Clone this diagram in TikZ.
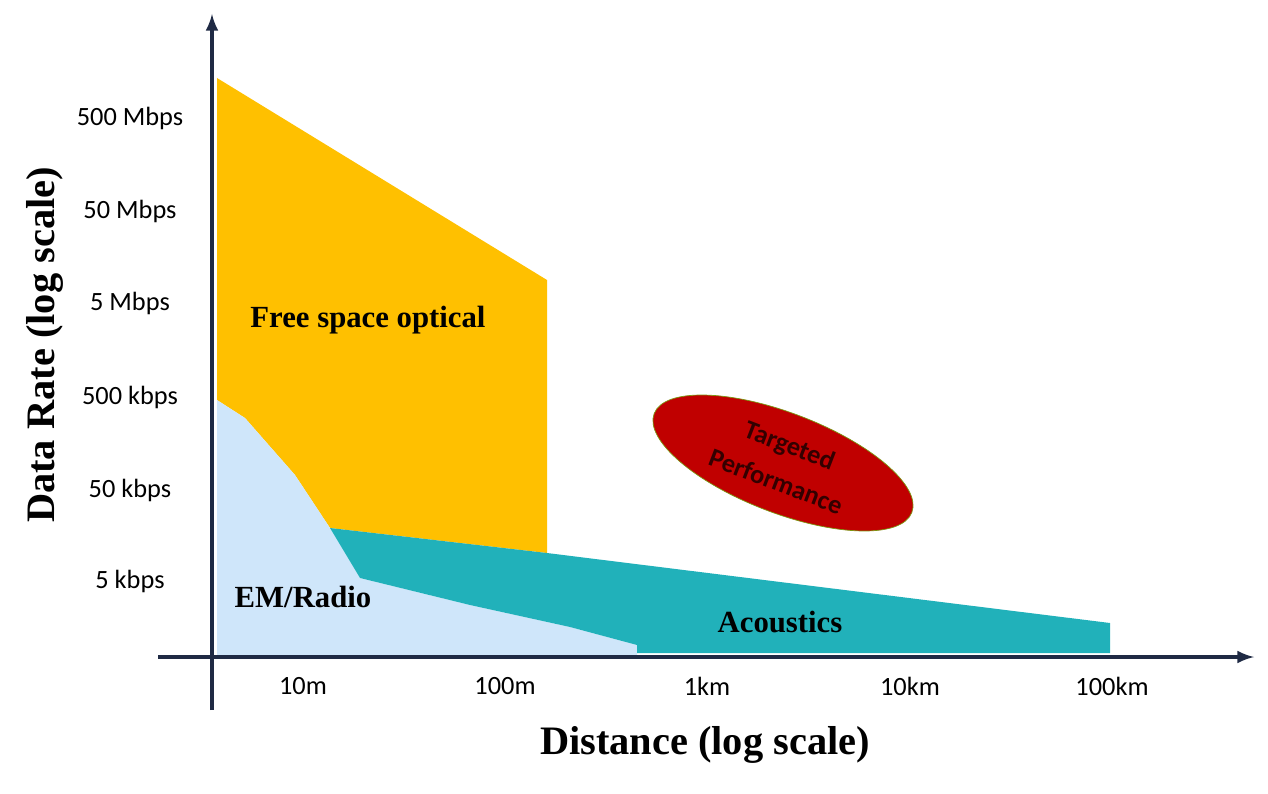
\documentclass[tikz,border=0pt]{standalone}
\usepackage{fontspec}
\setmainfont{Liberation Serif}
\newfontfamily\calfont{Carlito}
\begin{document}
\begin{tikzpicture}[x=0.02cm,y=-0.02cm,
 tick/.style={font=\calfont\fontsize{15}{17}\selectfont},
 lab/.style={font=\bfseries\fontsize{17.5}{20}\selectfont},
 ax/.style={line width=2.2pt,color=axc,-latex}]
\definecolor{axc}{HTML}{1F2A44}
\definecolor{orng}{HTML}{FFC000}
\definecolor{lblue}{HTML}{CFE6FA}
\definecolor{teal}{HTML}{21B1BA}
\definecolor{dred}{HTML}{C00000}
\useasboundingbox (0,0) rectangle (1268,794);
\fill[orng] (217,78)--(547,280)--(547,553)--(330,528)--(295,475)--(245,418)--(217,400)--cycle;
\fill[lblue] (217,400)--(245,418)--(295,475)--(330,528)--(360,578)--(470,605)--(570,627)--(637,645)--(637,655)--(217,655)--cycle;
\fill[teal] (330,528)--(547,553)--(1110,623)--(1110,653)--(637,653)--(637,645)--(570,627)--(470,605)--(360,578)--cycle;
\coordinate (y0) at (212,710); \coordinate (y1) at (212,14);
\coordinate (x0) at (158,657); \coordinate (x1) at (1254,657);
\draw[ax] (y0)--(y1);
\draw[ax] (x0)--(x1);
\fill[dred,draw=olive!70!green,thin,rotate around={-21:(783,463)}] (783,463) ellipse [x radius=138,y radius=50];
\node[rotate=-21,align=center,font=\calfont\bfseries\fontsize{15}{22}\selectfont,text=black!80!red] (tp) at (783,463) {Targeted\\Performance};
\foreach \t/\y in {500 Mbps/118,50 Mbps/211,5 Mbps/303,500 kbps/397,50 kbps/490,5 kbps/581}
 \node[tick] at (130,\y) {\t};
\foreach \t/\x in {10m/303,100m/505,1km/707,10km/910,100km/1112}
 \node[tick] at (\x,686) {\t};
\node[lab] (fso) at (368,320) {Free space optical};
\node[lab] (em) at (303,597) {EM/Radio};
\node[lab] (ac) at (780,622) {Acoustics};
\node[font=\bfseries\fontsize{23}{26}\selectfont] (xt) at (705,745) {Distance (log scale)};
\node[font=\bfseries\fontsize{23}{26}\selectfont,rotate=90] (yt) at (45,345) {Data Rate (log scale)};
\end{tikzpicture}
\end{document}
